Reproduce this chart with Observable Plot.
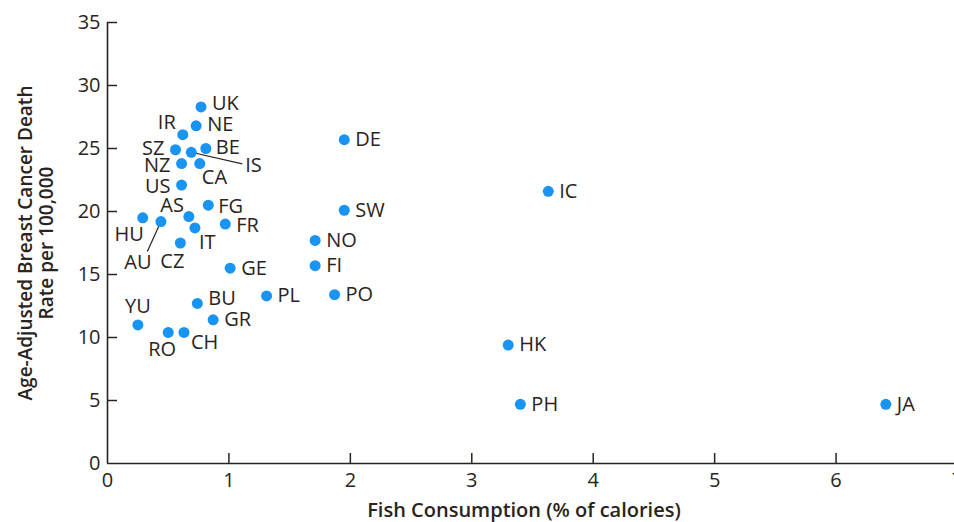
<!DOCTYPE html>
<html>
<head>
<meta charset="utf-8">
<script src="https://cdn.jsdelivr.net/npm/d3@7"></script>
<script src="https://cdn.jsdelivr.net/npm/@observablehq/plot@0.6"></script>
<style>
  html, body { margin: 0; padding: 0; background: #fff; overflow: hidden; }
  #chart { width: 954px; height: 522px; }
</style>
</head>
<body>
<div id="chart"></div>
<script>
// ---- Data ----
const countries = ["UK","IR","NE","SZ","IS","BE","NZ","CA","US","FG","HU","AU","AS","IT","FR","CZ","GE",
                   "DE","SW","IC","NO","FI","PL","PO","BU","GR","YU","RO","CH","HK","PH","JA"];
const fishConsumption = [0.77,0.62,0.73,0.56,0.69,0.81,0.61,0.76,0.61,0.83,0.29,0.44,0.67,0.72,0.97,0.60,1.01,
                   1.95,1.95,3.63,1.71,1.71,1.31,1.87,0.74,0.87,0.25,0.50,0.63,3.30,3.40,6.41];
const deathRate = [28.3,26.1,26.8,24.9,24.7,25.0,23.8,23.8,22.1,20.5,19.5,19.2,19.6,18.7,19.0,17.5,15.5,
                   25.7,20.1,21.6,17.7,15.7,13.3,13.4,12.7,11.4,11.0,10.4,10.4,9.4,4.7,4.7];
const xTicks = [0,1,2,3,4,5,6,7];
const yTicks = [0,5,10,15,20,25,30,35];
const xTitle = "Fish Consumption (% of calories)";
const yTitle = "Age-Adjusted Breast Cancer Death\nRate per 100,000";

const rows = countries.map((c, i) => ({code: c, fish: fishConsumption[i], rate: deathRate[i]}));

// ---- Styling: label placement (pixel offsets from the dot) ----
const R = {anchor: "start", dx: 11, dy: 0};
const labelStyle = {
  UK: {anchor: "start", dx: 11, dy: -3},
  IR: {anchor: "end", dx: -7, dy: -12},
  NE: {anchor: "start", dx: 11, dy: -1},
  SZ: {anchor: "end", dx: -11, dy: -1},
  IS: {anchor: "start", dx: 54, dy: 13, leader: [51, 11.6]},
  BE: {anchor: "start", dx: 10, dy: -1},
  NZ: {anchor: "end", dx: -11, dy: 2},
  CA: {anchor: "start", dx: 2, dy: 14},
  US: {anchor: "end", dx: -11, dy: 2},
  FG: {anchor: "start", dx: 10, dy: 1},
  HU: {anchor: "end", dx: 1, dy: 17},
  AU: {anchor: "middle", dx: -23, dy: 41, leader: [-13.6, 30]},
  AS: {anchor: "end", dx: -5, dy: -11},
  IT: {anchor: "start", dx: 4, dy: 15},
  FR: {anchor: "start", dx: 11, dy: 1},
  CZ: {anchor: "middle", dx: -8, dy: 19},
  GE: {anchor: "start", dx: 11, dy: 0},
  YU: {anchor: "middle", dx: 0, dy: -18},
  BU: {anchor: "start", dx: 11, dy: -5},
  RO: {anchor: "middle", dx: -6, dy: 17},
  CH: {anchor: "start", dx: 7, dy: 10}
};
const place = c => labelStyle[c] || R;

const W = 954, H = 522;
const mL = 107, mT = 22, mB = 59, mR = 0;
const xRange = [107, 957];
const yRange = [H - mB, mT];
// matching d3 scales to turn pixel leader offsets into data positions
const xs = d3.scaleLinear([0, 7], xRange);
const ys = d3.scaleLinear([0, 35], yRange);

const ink = "#2a2420";
const dotColor = "#1a94f2";
const fontFamily = "'Open Sans', 'Noto Sans', sans-serif";

const leaders = rows.filter(d => place(d.code).leader).map(d => {
  const [ox, oy] = place(d.code).leader;
  return {x1: d.fish, y1: d.rate, x2: xs.invert(xs(d.fish) + ox), y2: ys.invert(ys(d.rate) + oy)};
});

const labelMarks = rows.map(d => {
  const p = place(d.code);
  return Plot.text([d], {
    x: "fish", y: "rate", text: "code",
    dx: p.dx, dy: p.dy, textAnchor: p.anchor,
    fontSize: 20, fill: ink
  });
});

const plot = Plot.plot({
  width: W, height: H,
  marginLeft: mL, marginTop: mT, marginBottom: mB, marginRight: mR,
  style: {fontFamily, fontSize: "20px", color: ink, background: "#fff", overflow: "visible"},
  x: {domain: [0, 7], range: xRange},
  y: {domain: [0, 35], range: yRange},
  marks: [
    Plot.axisX({ticks: xTicks, tickSize: 0, tickPadding: 9, label: null, tickFormat: d => String(d), fontSize: 20}),
    Plot.axisY({ticks: yTicks, tickSize: 0, tickPadding: 7, label: null, tickFormat: d => String(d), fontSize: 20}),
    Plot.tickX(xTicks.filter(d => d > 0), {x: d => d, insetTop: (H - mB - mT) - 10, stroke: ink, strokeWidth: 1.5}),
    Plot.tickY(yTicks.filter(d => d > 0), {y: d => d, insetRight: (W - mL - mR) - 10, stroke: ink, strokeWidth: 1.5}),
    Plot.ruleX([0], {stroke: ink, strokeWidth: 1.6}),
    Plot.ruleY([0], {stroke: ink, strokeWidth: 1.6}),
    Plot.link(leaders, {x1: "x1", y1: "y1", x2: "x2", y2: "y2", stroke: ink, strokeWidth: 1.2}),
    Plot.dot(rows, {x: "fish", y: "rate", r: 5.5, fill: dotColor, stroke: "none"}),
    ...labelMarks,
    Plot.text([xTitle], {frameAnchor: "bottom", dy: 47, dx: -7, textAnchor: "middle", lineAnchor: "middle", text: d => d, fontSize: 20, fontWeight: 600, fill: ink}),
    Plot.text([yTitle], {frameAnchor: "left", dx: -72, rotate: -90, textAnchor: "middle", lineAnchor: "middle", text: d => d, fontSize: 19, fontWeight: 600, lineHeight: 1.1, fill: ink})
  ]
});
document.getElementById("chart").appendChild(plot);
</script>
</body>
</html>
